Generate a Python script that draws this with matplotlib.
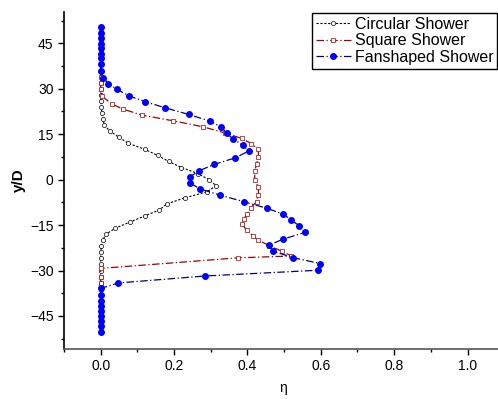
import matplotlib.pyplot as plt

plt.rcParams['font.family'] = ['Liberation Sans', 'DejaVu Sans']

# valores
y_circ = [50, 48, 46, 44, 42, 40, 38, 36, 34, 32, 30, 28, 26, 24, 22, 20, 18, 16, 14, 12,
          10, 8, 6, 4, 2, 0, -2, -4, -6, -8, -10, -12, -14, -16, -18, -20, -22, -24, -26,
          -28, -30, -32, -34, -36, -38, -40, -42, -44, -46, -48, -50]
eta_circ = [0, 0, 0, 0, 0, 0, 0, 0, 0, 0, 0, 0, 0.001, 0.002, 0.003, 0.006, 0.010, 0.025,
            0.05, 0.075, 0.12, 0.155, 0.185, 0.22, 0.265, 0.295, 0.315, 0.29, 0.23, 0.18,
            0.16, 0.12, 0.08, 0.04, 0.015, 0.005, 0.002, 0, 0, 0, 0, 0, 0, 0, 0, 0, 0, 0,
            0, 0, 0]

y_sq = [50, 48, 46, 44, 42, 40, 38, 36, 34, 32, 30, 27.5, 25, 23.3, 21.3, 19.4, 17.4,
        15.4, 13.6, 11.9, 10, 7.5, 5, 3, 0, -2.5, -5, -7.3, -9.2, -11.2, -13, -14.5,
        -16.7, -18.5, -20, -21.8, -23.6, -25.2, -25.8, -29.3, -32, -34, -36, -38, -40,
        -42, -44, -46, -48, -50]
eta_sq = [0, 0, 0, 0, 0, 0, 0, 0, 0, 0, 0, 0.004, 0.03, 0.06, 0.112, 0.198, 0.28, 0.339,
          0.384, 0.411, 0.43, 0.43, 0.425, 0.42, 0.42, 0.43, 0.43, 0.425, 0.41, 0.40,
          0.39, 0.384, 0.398, 0.415, 0.43, 0.46, 0.493, 0.52, 0.375, 0, 0, 0, 0, 0, 0, 0,
          0, 0, 0, 0]

y_fan = [50.4, 48.3, 46.6, 44.9, 43.3, 41.6, 40.0, 38.3, 35.9, 33.7, 31.7, 29.8, 27.6,
         25.7, 23.7, 21.5, 19.3, 17.4, 15.4, 13.3, 11.4, 9.4, 7.2, 5.0, 2.9, 0.9, -1.1,
         -3.1, -5.1, -7.3, -9.5, -11.4, -13.4, -15.2, -17.4, -19.7, -21.6, -23.6, -25.7,
         -27.7, -29.9, -31.8, -34.1, -35.9, -38.0, -40.0, -41.7, -43.3, -45.0, -46.6,
         -48.3, -50.4]
eta_fan = [0, 0, 0, 0, 0, 0, 0, 0, 0, 0.007, 0.021, 0.044, 0.078, 0.122, 0.176, 0.240,
           0.298, 0.328, 0.343, 0.362, 0.388, 0.403, 0.367, 0.309, 0.268, 0.243, 0.243,
           0.272, 0.325, 0.391, 0.454, 0.498, 0.520, 0.541, 0.557, 0.496, 0.459, 0.470,
           0.523, 0.599, 0.593, 0.284, 0.048, 0, 0, 0, 0, 0, 0, 0, 0, 0]

fig = plt.figure(figsize=(4.98, 3.99), dpi=100)
ax = fig.add_axes([0.1285, 0.126, 0.884, 0.8438])

ax.plot(eta_circ, y_circ, color='black', linestyle=(0, (2, 1.5)), linewidth=0.8,
        marker='o', markersize=3, markerfacecolor='white', markeredgecolor='black',
        markeredgewidth=0.5, label='Circular Shower')
ax.plot(eta_sq, y_sq, color='#a00000', linestyle=(0, (6, 2, 1, 2)), linewidth=0.9,
        marker='s', markersize=3, markerfacecolor='white', markeredgecolor='#a00000',
        markeredgewidth=0.5, label='Square Shower')
ax.plot(eta_fan, y_fan, color='#000080', linestyle=(0, (6, 2, 1, 2)), linewidth=0.9,
        marker='o', markersize=4, markerfacecolor='#0000ff', markeredgecolor='#0000ff',
        label='Fanshaped Shower')

ax.set_xlim(-0.1, 1.1)
ax.set_ylim(-55.8, 55.3)
ax.set_xticks([0.0, 0.2, 0.4, 0.6, 0.8, 1.0])
ax.set_xticks([-0.1, 0.1, 0.3, 0.5, 0.7, 0.9], minor=True)
ax.set_yticks([-45, -30, -15, 0, 15, 30, 45])
ax.set_yticks([-52.5, -37.5, -22.5, -7.5, 7.5, 22.5, 37.5, 52.5], minor=True)
ax.tick_params(which='major', direction='out', length=4, width=1, labelsize=10)
ax.tick_params(which='minor', direction='out', length=2.5, width=1)
ax.spines['top'].set_visible(False)
ax.spines['right'].set_visible(False)
ax.spines['left'].set_linewidth(1.2)
ax.spines['bottom'].set_linewidth(1.2)
ax.spines['bottom'].set_color('#555555')

ax.set_xlabel('η', fontsize=10)
ax.xaxis.set_label_coords(0.498, -0.095)
ax.set_ylabel('y/D', fontsize=11, fontweight='bold')
ax.yaxis.set_label_coords(-0.086, 0.5)

fig.legend(loc='upper left', bbox_to_anchor=(0.626, 0.968), fontsize=11.5,
           frameon=True, fancybox=False, edgecolor='black', framealpha=1,
           handlelength=2.2, borderpad=0.25, labelspacing=0.1, handletextpad=0.25,
           borderaxespad=0)

plt.savefig('out.png', dpi=100)
